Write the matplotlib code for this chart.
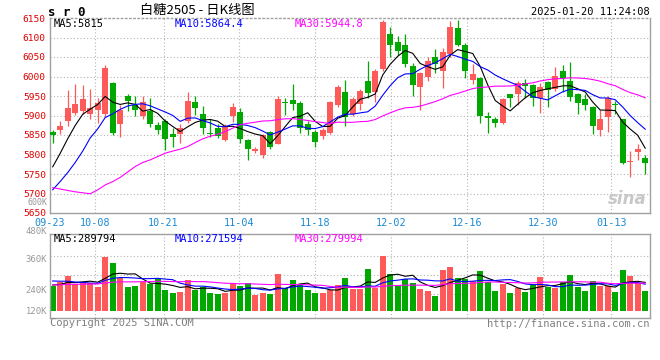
import numpy as np
import pandas as pd
import matplotlib
matplotlib.use("Agg")
import matplotlib.pyplot as plt

# SR0 daily candles, 2024-09-23 .. 2025-01-20
dates = ["09-23", "09-24", "09-25", "09-26", "09-27", "09-30",
         "10-08", "10-09", "10-10", "10-11", "10-14", "10-15", "10-16", "10-17",
         "10-18", "10-21", "10-22", "10-23", "10-24", "10-25", "10-28", "10-29",
         "10-30", "10-31",
         "11-01", "11-04", "11-05", "11-06", "11-07", "11-08", "11-11", "11-12",
         "11-13", "11-14", "11-15", "11-18", "11-19", "11-20", "11-21", "11-22",
         "11-25", "11-26", "11-27", "11-28", "11-29",
         "12-02", "12-03", "12-04", "12-05", "12-06", "12-09", "12-10", "12-11",
         "12-12", "12-13", "12-16", "12-17", "12-18", "12-19", "12-20", "12-23",
         "12-24", "12-25", "12-26", "12-27", "12-30", "12-31",
         "01-02", "01-03", "01-06", "01-07", "01-08", "01-09", "01-10", "01-13",
         "01-14", "01-15", "01-16", "01-17", "01-20"]

opens = [5858, 5862, 5885, 5907, 5911, 5904, 5913, 5903, 5984, 5879,
         5950, 5928, 5900, 5911, 5875, 5887, 5852, 5852, 5887, 5935,
         5904, 5855, 5869, 5836, 5898, 5909, 5836, 5809, 5799, 5858,
         5828, 5934, 5941, 5932, 5879, 5857, 5847, 5856, 5928, 5960,
         5903, 5930, 5989, 5960, 6018, 6109, 6088, 6082, 6027, 5972,
         6000, 6049, 6015, 6058, 6124, 6081, 5990, 5996, 5898, 5890,
         5880, 5954, 5956, 5984, 5977, 5945, 5985, 5969, 6013, 5988,
         5954, 5943, 5921, 5862, 5896, 5929, 5890, 5781, 5806, 5790]
highs = [5862, 5887, 5966, 5981, 5978, 5968, 5945, 6030, 5986, 5928,
         5955, 5949, 5950, 5945, 5884, 5890, 5869, 5879, 5959, 5949,
         5924, 5890, 5877, 5877, 5932, 5920, 5841, 5819, 5852, 5860,
         5949, 5945, 5981, 5936, 5887, 5864, 5869, 5937, 5978, 5992,
         5947, 5969, 6040, 6018, 6145, 6126, 6105, 6109, 6035, 6012,
         6049, 6071, 6073, 6143, 6145, 6085, 6032, 5998, 5909, 5896,
         5945, 5956, 5989, 5994, 5980, 5983, 5988, 6024, 6030, 6037,
         5958, 5955, 5925, 5913, 5949, 5938, 5892, 5809, 5828, 5800]
lows = [5830, 5852, 5873, 5901, 5905, 5892, 5881, 5897, 5851, 5845,
        5911, 5898, 5890, 5870, 5852, 5811, 5819, 5830, 5881, 5901,
        5853, 5845, 5843, 5834, 5884, 5830, 5785, 5805, 5792, 5813,
        5826, 5902, 5915, 5856, 5850, 5819, 5841, 5852, 5921, 5873,
        5898, 5913, 5945, 5935, 6013, 6049, 6056, 6025, 5951, 5915,
        5988, 6009, 5971, 6050, 6078, 5996, 5982, 5881, 5854, 5870,
        5879, 5921, 5926, 5945, 5924, 5907, 5921, 5962, 5960, 5937,
        5904, 5913, 5853, 5847, 5858, 5905, 5776, 5743, 5785, 5751]
closes = [5851, 5873, 5918, 5930, 5943, 5918, 5932, 6022, 5856, 5914,
          5938, 5913, 5935, 5877, 5864, 5839, 5845, 5869, 5938, 5920,
          5869, 5853, 5847, 5870, 5923, 5841, 5813, 5815, 5850, 5819,
          5943, 5931, 5930, 5869, 5862, 5833, 5864, 5934, 5972, 5896,
          5943, 5964, 5958, 6015, 6139, 6081, 6066, 6032, 5979, 6009,
          6040, 6032, 6064, 6128, 6081, 6015, 6007, 5898, 5893, 5880,
          5943, 5945, 5983, 5976, 5945, 5972, 5966, 6002, 5995, 5947,
          5932, 5926, 5873, 5892, 5945, 5927, 5779, 5783, 5813, 5779]
volumes = [253400, 297300, 358000, 270000, 297300, 287000, 246600, 550600, 489800, 337800,
           246600, 256700, 290500, 277000, 324300, 212800, 185800, 196000, 314200, 212800,
           246600, 182400, 172300, 179000, 270000, 256700, 287000, 162000, 185800, 172300,
           375000, 236500, 314200, 273600, 212800, 185800, 185800, 212800, 263500, 337800,
           223000, 223000, 425600, 236500, 560700, 375000, 263500, 324300, 287000, 223000,
           202700, 155400, 415500, 445900, 337800, 324300, 304000, 405400, 290500, 202700,
           270000, 182400, 229700, 196000, 263500, 348000, 246600, 236500, 290500, 364800,
           246600, 201000, 304000, 258000, 256700, 189200, 415500, 354700, 287000, 202700]

# sessions before 09-23 (not drawn, only feed the moving averages)
prior_closes = [5980, 6025, 6035, 6015, 5997, 5632, 5640, 5600, 5592, 5520,
                5491, 5630, 5672, 5610, 5583, 5680, 5722, 5740, 5610, 5579,
                5660, 5690, 5670, 5653, 5580, 5700, 5731, 5760, 5800]
prior_volumes = [230000, 250000, 240000, 260000, 235000, 245000, 250000, 230000, 240000, 255000,
                 245000, 235000, 250000, 240000, 245000, 235000, 250000, 245000, 240000, 245000,
                 320000, 360000, 350000, 335000, 358000, 270000, 255000, 280000, 259000]

ma_windows = [5, 10, 30]
ma_colors = ["black", "#0000ff", "#ff00ff"]
price_ma_text = ["MA5:5815", "MA10:5864.4", "MA30:5944.8"]
vol_ma_text = ["MA5:289794", "MA10:271594", "MA30:279994"]
tick_dates = ["10-08", "10-21", "11-04", "11-18", "12-02", "12-16", "12-30", "01-13"]
vol_labels = ["600K", "480K", "360K", "240K", "120K"]

RED = "#ff5a5a"
GREEN = "#00a800"
GRID = "#b4b4b4"
FRAME = "#a0a0a0"
MONO = "DejaVu Sans Mono"

W, H = 660, 360
fig = plt.figure(figsize=(W / 100, H / 100), dpi=100)
fig.patch.set_facecolor("white")


def px(x, y):
    return x / W, 1 - y / H


def ftext(x, y, s, **kw):
    fx, fy = px(x, y)
    fig.text(fx, fy, s, **kw)


ax = fig.add_axes([50 / W, 1 - 213 / H, 600 / W, 195 / H])
axv = fig.add_axes([50 / W, 1 - 318 / H, 600 / W, 83.7 / H])

n = len(closes)
x = np.arange(n)
o = np.array(opens, float)
c = np.array(closes, float)
col = np.where(c >= o, RED, GREEN)

xlim = (-0.36, n - 0.36)
tick_idx = np.array([dates.index(d) for d in tick_dates])
tick_pos = tick_idx * 1.012 - 0.4

# ---- price panel
for yv in range(5700, 6101, 50):
    ax.axhline(yv, color=GRID, lw=0.8, ls=(0, (1, 2)), zorder=0)
for xv in tick_pos:
    ax.axvline(xv, color=GRID, lw=0.8, ls=(0, (1, 2)), zorder=0)

ax.vlines(x, lows, highs, colors=col, lw=0.9, zorder=2)
ax.bar(x, np.maximum(np.abs(c - o), 2.6), bottom=np.minimum(o, c), width=0.8,
       color=col, linewidth=0, zorder=3)

all_close = pd.Series(prior_closes + closes, dtype=float)
for w, mc in zip(ma_windows, ma_colors):
    ma = all_close.rolling(w).mean().values[len(prior_closes):]
    ax.plot(x, ma, color=mc, lw=0.8, zorder=4)

ax.set_xlim(*xlim)
ax.set_ylim(5650, 6150)
ax.set_yticks(range(5650, 6151, 50))
ax.set_yticklabels([str(v) for v in range(5650, 6151, 50)], color="#e00000",
                   fontsize=6.8, family=MONO)
ax.set_xticks([xlim[0]] + list(tick_pos))
ax.set_xticklabels([dates[0]] + tick_dates, color="#1a8ad4", fontsize=7.3, family=MONO)
ax.tick_params(length=0, pad=3)
ax.tick_params(axis="x", pad=3.5)
for s in ax.spines.values():
    s.set_color(FRAME)
    s.set_linewidth(1)
ax.spines["top"].set_linestyle((0, (1, 2)))

for xt, s, mc in zip([54, 175, 295], price_ma_text, ma_colors):
    ftext(xt, 24, s, color=mc, fontsize=7.5, family=MONO, ha="left", va="center")

ax.text(0.995, 0.07, "sina", transform=ax.transAxes, ha="right", va="center",
        fontsize=12, fontweight="bold", style="italic", color="#c8c8c8", zorder=1)

# ---- volume panel
for yv in [560000, 365000, 169000]:
    axv.axhline(yv, color=GRID, lw=0.8, ls=(0, (1, 2)), zorder=0)
for xv in tick_pos:
    axv.axvline(xv, color=GRID, lw=0.8, ls=(0, (1, 2)), zorder=0)

axv.bar(x, volumes, width=0.8, color=col, linewidth=0, zorder=2)
all_vol = pd.Series(prior_volumes + volumes, dtype=float)
for w, mc in zip(ma_windows, ma_colors):
    ma = all_vol.rolling(w).mean().values[len(prior_volumes):]
    axv.plot(x, ma, color=mc, lw=0.8, zorder=4)

axv.set_xlim(*xlim)
axv.set_ylim(-71000, 777000)
axv.set_xticks([])
axv.set_yticks([])
for s in axv.spines.values():
    s.set_color(FRAME)
    s.set_linewidth(1)

for xt, s, mc in zip([54, 175, 295], vol_ma_text, ma_colors):
    ftext(xt, 239, s, color=mc, fontsize=7.5, family=MONO, ha="left", va="center")

for yl, s, fs in zip([202.4, 232, 260, 290.7, 311], vol_labels, [6.0, 6.4, 6.4, 6.4, 6.4]):
    ftext(47, yl, s, color="#999999", fontsize=fs, family=MONO, ha="right", va="center")

# ---- header / footer
ftext(48, 12, "s r 0", color="black", fontsize=9, fontweight="bold", family=MONO,
      ha="left", va="center")
ftext(140, 10, "白糖2505 - 日K线图", color="black", fontsize=9.5,
      family=["Noto Sans CJK SC", "DejaVu Sans"], ha="left", va="center")
ftext(650, 12, "2025-01-20 11:24:08", color="black", fontsize=7.5, family=MONO,
      ha="right", va="center")
ftext(50, 323.5, "Copyright 2025 SINA.COM", color="#808080", fontsize=7.5, family=MONO,
      ha="left", va="center")
ftext(650, 324, "http://finance.sina.com.cn", color="#808080", fontsize=7.5, family=MONO,
      ha="right", va="center")

fig.savefig("out.png", dpi=100, facecolor="white")
